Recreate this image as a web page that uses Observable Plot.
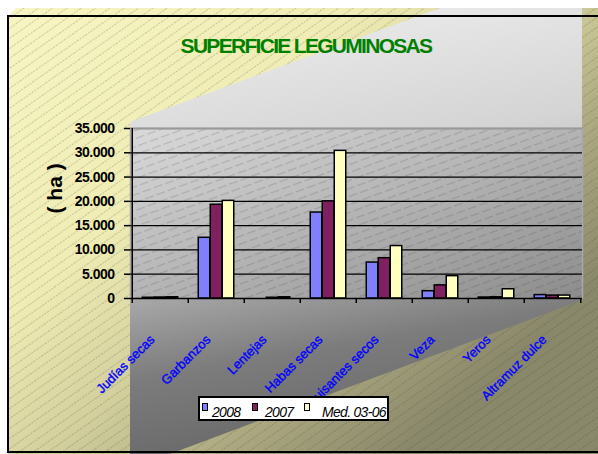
<!DOCTYPE html>
<html><head><meta charset="utf-8">
<script src="https://cdn.jsdelivr.net/npm/d3@7"></script>
<script src="https://cdn.jsdelivr.net/npm/@observablehq/plot@0.6"></script>
<style>
body{margin:0;background:#fff;}
#wrap{position:relative;width:598px;height:454px;overflow:hidden;font-family:"Liberation Sans",Arial,sans-serif;}
#bg,#chart{position:absolute;left:0;top:0;}
#chart svg{overflow:visible;}
#chart g[aria-label="y-axis tick label"] text{letter-spacing:-0.5px;font-weight:bold;}
#title{position:absolute;left:106px;width:400px;top:35px;text-align:center;font-size:21px;line-height:21px;font-weight:bold;letter-spacing:-1.7px;color:#008000;white-space:nowrap;}
#legend{position:absolute;left:198px;top:396px;width:191px;height:25px;box-sizing:border-box;border:2px solid #000;background:#fff;}
.sw{position:absolute;width:4px;height:6px;border:1px solid #000;top:403px;}
.lt{position:absolute;top:405px;font-size:14px;line-height:14px;font-style:italic;letter-spacing:-0.7px;color:#000;white-space:nowrap;}
</style></head>
<body><div id="wrap">
<svg id="bg" width="598" height="454" xmlns="http://www.w3.org/2000/svg">
<defs>
<linearGradient id="yelGrad" gradientUnits="userSpaceOnUse" x1="0" y1="0" x2="400" y2="454">
<stop offset="0" stop-color="#f8f6c4"/>
<stop offset="0.4" stop-color="#efecb5"/>
<stop offset="0.62" stop-color="#d2cf9d"/>
<stop offset="0.78" stop-color="#b0ad84"/>
<stop offset="1" stop-color="#8a886a"/>
</linearGradient>
<pattern id="hatchY" patternUnits="userSpaceOnUse" width="10" height="8.2" patternTransform="rotate(-35)">
<line x1="0" y1="4" x2="10" y2="4" stroke="rgba(60,60,30,0.35)" stroke-width="0.7" stroke-dasharray="2 1"/>
</pattern>
<linearGradient id="grayGrad" gradientUnits="userSpaceOnUse" x1="350" y1="20" x2="420" y2="440">
<stop offset="0" stop-color="#e8e8e8"/>
<stop offset="0.3" stop-color="#d4d4d4"/>
<stop offset="0.55" stop-color="#ababab"/>
<stop offset="0.75" stop-color="#7c7c7c"/>
<stop offset="1" stop-color="#666666"/>
</linearGradient>
<linearGradient id="plotGrad" x1="0" y1="0" x2="1" y2="1">
<stop offset="0" stop-color="#dadada"/>
<stop offset="0.5" stop-color="#b4b4b4"/>
<stop offset="1" stop-color="#8c8c8c"/>
</linearGradient>
<pattern id="hatchP" patternUnits="userSpaceOnUse" width="12" height="7.5" patternTransform="rotate(-20)">
<line x1="0" y1="3.5" x2="12" y2="3.5" stroke="rgba(50,50,50,0.35)" stroke-width="0.7" stroke-dasharray="5 3"/>
</pattern>
</defs>
<polygon points="8,16 16,8 598,8 598,454 8,454" fill="url(#yelGrad)"/>
<polygon points="8,16 16,8 598,8 598,454 8,454" fill="url(#hatchY)"/>
<polygon points="130,122 440,8 582,8 582,300 170,454 130,454" fill="url(#grayGrad)"/>
<rect x="8" y="16" width="600" height="436" fill="none" stroke="#000" stroke-width="2"/>
</svg>
<div id="chart"></div>
<div id="title">SUPERFICIE LEGUMINOSAS</div>
<div id="legend"></div>
<div class="sw" style="left:202px;background:#8080ff"></div>
<div class="lt" style="left:212px">2008</div>
<div class="sw" style="left:252px;background:#802060"></div>
<div class="lt" style="left:265px">2007</div>
<div class="sw" style="left:304px;background:#ffffc0"></div>
<div class="lt" style="left:322px">Med. 03-06</div>
</div>
<script>
const categories = ["Judías secas","Garbanzos","Lentejas","Habas secas","Guisantes secos","Veza","Yeros","Altramuz dulce"];
const series = ["2008","2007","Med. 03-06"];
const v2008 = [150, 12500, 0, 17700, 7400, 1500, 200, 700];
const v2007 = [200, 19300, 150, 20000, 8300, 2700, 250, 600];
const vMed  = [250, 20100, 250, 30400, 10800, 4600, 1900, 600];
const yTicks = [0, 5000, 10000, 15000, 20000, 25000, 30000, 35000];
const colors = ["#8080ff", "#802060", "#ffffc0"];

const values = [v2008, v2007, vMed];
const rows = categories.flatMap((c, i) => series.map((s, j) => ({category: c, series: s, value: values[j][i]})));

const W = 598, H = 454, mL = 130, mR = 16, mT = 128, mB = 156;
const bw = (W - mL - mR) / categories.length;
const barW = 12;
const off = (bw - series.length * barW) / 2;
const fmt = d3.formatLocale({decimal: ",", thousands: ".", grouping: [3], currency: ["", ""]}).format(",");

const chart = Plot.plot({
  width: W, height: H,
  marginLeft: mL, marginRight: mR, marginTop: mT, marginBottom: mB,
  style: {background: "transparent", fontFamily: "Liberation Sans, Arial, sans-serif", color: "#000"},
  x: {domain: categories, padding: 0, label: null},
  y: {domain: [0, 35000], label: null},
  marks: [
    Plot.frame({fill: "url(#plotGrad)"}),
    Plot.frame({fill: "url(#hatchP)", stroke: "#a8a8a8", strokeWidth: 1.5}),
    Plot.ruleY(yTicks.filter(d => d > 0 && d < 35000), {stroke: "#000", strokeWidth: 1.3}),
    Plot.ruleY([35000], {stroke: "#999", strokeWidth: 2}),
    ...series.map((s, j) => Plot.barY(rows.filter(d => d.series === s), {
      x: "category", y: "value", fill: colors[j], stroke: "#000", strokeWidth: 1.5,
      insetLeft: off + j * barW, insetRight: bw - off - (j + 1) * barW
    })),
    Plot.ruleY([0], {stroke: "#000", strokeWidth: 1.5}),
    Plot.ruleX([categories[0]], {dx: -bw / 2, stroke: "#000", strokeWidth: 1.5}),
    Plot.axisX({tickSize: 5, tickFormat: () => "", dx: -bw / 2, strokeWidth: 1.5, label: null}),
    Plot.axisX({ticks: [categories[categories.length - 1]], tickSize: 5, tickFormat: () => "", dx: bw / 2, strokeWidth: 1.5, label: null}),
    Plot.axisY({ticks: yTicks, tickFormat: fmt, tickSize: 6, tickPadding: 10, fontSize: 14, fontWeight: "bold", strokeWidth: 1.5, label: null}),
    Plot.text(["( ha )"], {frameAnchor: "left", dx: -75, rotate: -90, fontSize: 21, fontWeight: "bold", fill: "#000"}),
    Plot.text(categories, {x: d => d, frameAnchor: "bottom", rotate: -45, textAnchor: "end", lineAnchor: "middle", dx: -8, dy: 39, fill: "#0000ff", stroke: "#0000ff", strokeWidth: 0.35, fontSize: 13})
  ]
});
document.getElementById("chart").appendChild(chart);
</script>
</body></html>
